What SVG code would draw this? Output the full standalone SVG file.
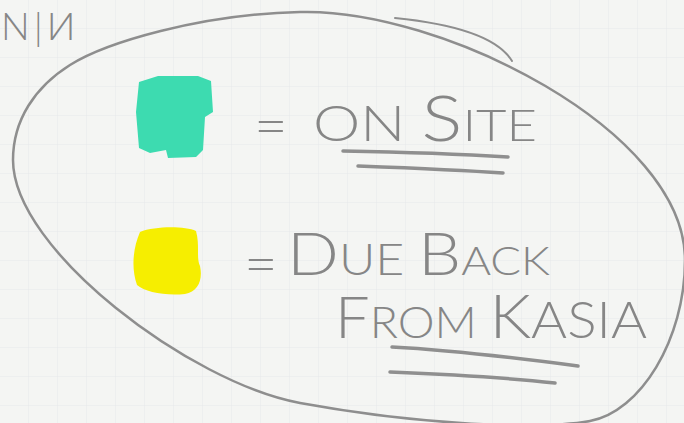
<svg xmlns="http://www.w3.org/2000/svg" width="684" height="423" viewBox="0 0 684 423">
  <defs>
    <pattern id="grid" width="29" height="29" patternUnits="userSpaceOnUse">
      <path d="M29 0V29H0" fill="none" stroke="#e7e9ea" stroke-width="1"/>
    </pattern>
    <style>
      .pencil { fill: none; stroke: #8e8e8e; stroke-linecap: round; stroke-linejoin: round; }
      .hand { font-family: Lato, Roboto, "Liberation Sans", sans-serif; font-weight: 300; fill: #868686; }
      .under { fill: none; stroke: #8f8f8f; stroke-width: 3.5; stroke-linecap: round; }
    </style>
  </defs>
  <rect width="684" height="423" fill="#f4f5f3"/>
  <rect width="684" height="423" fill="url(#grid)"/>

  <g id="corner-text">
    <text class="hand" font-size="38" x="1" y="40" letter-spacing="4">N|И</text>
  </g>

  <g id="outline">
    <path class="pencil" stroke-width="2.5" d="M13,160 C13,120 35,87 70,65 C105,43 200,14 300,12 C440,8 685,130 685,260 C685,340 640,412 590,421 C540,430 420,425 300,403 C191,383 13,250 13,160 Z"/>
    <path class="pencil" stroke-width="2" d="M395,18 C455,24 498,38 512,61"/>
  </g>

  <g id="legend-onsite">
    <path fill="#3ddbb0" d="M139,82 L158,76 L198,76 L211,81 L213,112 L205,117 L203,150 L196,157 L168,158 L166,150 L150,153 L139,148 L136,112 Z"/>
    <text class="hand" font-size="58" x="254" y="146">=</text>
    <text class="hand" x="313" y="141" textLength="224" lengthAdjust="spacingAndGlyphs"><tspan font-size="50">ON</tspan><tspan font-size="50"> </tspan><tspan font-size="64">S</tspan><tspan font-size="44">ITE</tspan></text>
    <path class="under" d="M343,151 C400,152 460,154 508,157"/>
    <path class="under" d="M358,166 C410,168 460,170 503,173"/>
  </g>

  <g id="legend-dueback">
    <path fill="#f6ee00" d="M140,232 C155,226 185,226 196,231 C200,245 196,258 200,266 C203,280 198,292 185,294 C165,296 145,292 137,285 C131,268 133,248 140,232 Z"/>
    <text class="hand" font-size="58" x="244" y="284">=</text>
    <text class="hand" x="287" y="275" textLength="263" lengthAdjust="spacingAndGlyphs"><tspan font-size="60">D</tspan><tspan font-size="44">UE </tspan><tspan font-size="60">B</tspan><tspan font-size="40">ACK</tspan></text>
    <text class="hand" x="335" y="338" textLength="312" lengthAdjust="spacingAndGlyphs"><tspan font-size="58">F</tspan><tspan font-size="44">ROM </tspan><tspan font-size="62">K</tspan><tspan font-size="52">ASIA</tspan></text>
    <path class="under" d="M392,347 C430,349 480,353 578,366"/>
    <path class="under" d="M390,372 C440,374 500,377 555,383"/>
  </g>
</svg>
